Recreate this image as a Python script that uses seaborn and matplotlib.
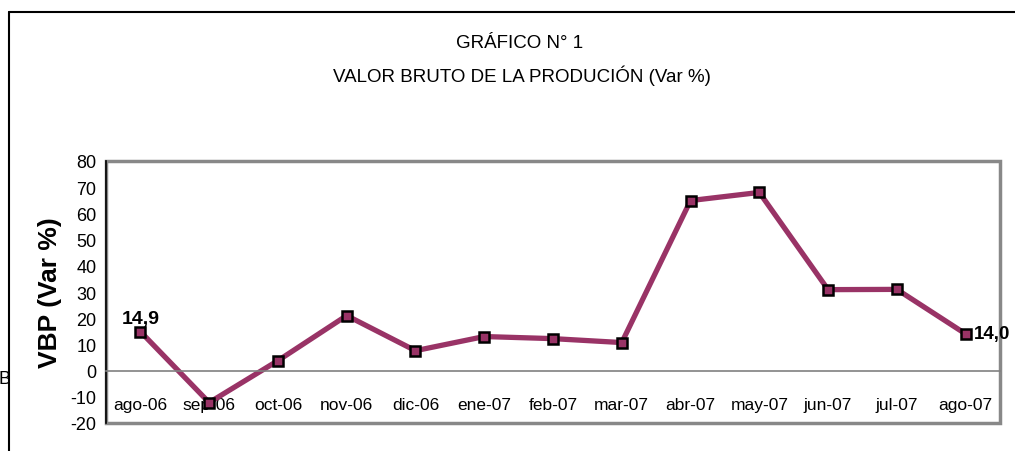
import matplotlib
matplotlib.use("Agg")
import matplotlib.pyplot as plt
import seaborn as sns
import pandas as pd
from matplotlib.patches import Rectangle
from matplotlib.lines import Line2D

# data
meses = ["ago-06", "sep-06", "oct-06", "nov-06", "dic-06", "ene-07", "feb-07",
         "mar-07", "abr-07", "may-07", "jun-07", "jul-07", "ago-07"]
var_vbp = [14.9, -12.2, 3.8, 21.0, 7.6, 13.0, 12.2, 10.7, 64.9, 68.0, 30.9, 31.0, 14.0]
etiquetas = ["14,9", "", "", "", "", "", "", "", "", "", "", "", "14,0"]
y_ticks = [-20, -10, 0, 10, 20, 30, 40, 50, 60, 70, 80]

df = pd.DataFrame({"mes": meses, "var": var_vbp, "pos": range(len(meses))})

sns.set_style("white")
plt.rcParams["font.family"] = ["Liberation Sans", "DejaVu Sans"]
plt.rcParams["text.color"] = "black"
plt.rcParams["xtick.color"] = "black"
plt.rcParams["ytick.color"] = "black"
plt.rcParams["axes.labelcolor"] = "black"

fig = plt.figure(figsize=(10.15, 4.52), dpi=100)
ax = fig.add_axes([106 / 1015, 1 - 424 / 452, 894 / 1015, 262 / 452])

sns.lineplot(data=df, x="pos", y="var", ax=ax, color="#993366", linewidth=3.8,
             marker="s", markersize=7, markerfacecolor="#993366",
             markeredgecolor="black", markeredgewidth=1.8)

ax.set_xlim(-0.5, len(meses) - 0.5)
ax.set_ylim(-20, 80)
ax.set_yticks(y_ticks)
ax.set_yticklabels([str(v) for v in y_ticks], fontsize=13)
ax.tick_params(axis="y", direction="out", length=5, width=1, color="black", pad=2)

# category axis crosses at zero, like the original spreadsheet chart
ax.spines["bottom"].set_position(("data", 0))
ax.spines["bottom"].set_color("#808080")
ax.spines["bottom"].set_linewidth(1.2)
ax.set_xticks([i + 0.5 for i in range(len(meses))])
ax.set_xticklabels([])
ax.tick_params(axis="x", which="major", direction="out", length=7, width=1, color="black")
ax.set_xticks(range(len(meses)), minor=True)
ax.set_xticklabels(meses, minor=True, fontsize=12.5)
ax.tick_params(axis="x", which="minor", length=0, pad=19)

for s in ["top", "right"]:
    ax.spines[s].set_visible(False)
ax.spines["left"].set_color("black")
ax.spines["left"].set_linewidth(1.2)
ax.add_patch(Rectangle((0, 0), 1, 1, transform=ax.transAxes, fill=False,
                       edgecolor="#888888", linewidth=2.5, clip_on=False, zorder=0))

ax.set_xlabel("")
ax.set_ylabel("VBP (Var %)", fontsize=19, fontweight="bold", labelpad=6)

for i, (v, t) in enumerate(zip(var_vbp, etiquetas)):
    if not t:
        continue
    if i == 0:
        ax.annotate(t, (i, v), xytext=(0, 3), textcoords="offset points",
                    ha="center", va="bottom", fontsize=14, fontweight="bold")
    else:
        ax.annotate(t, (i, v), xytext=(6, 0), textcoords="offset points",
                    ha="left", va="center", fontsize=13.5, fontweight="bold")

fig.text(520 / 1015, 1 - 43 / 452, "GRÁFICO N° 1", ha="center", va="center",
         fontsize=13.5, family=["Liberation Sans Narrow", "Liberation Sans"])
fig.text(522 / 1015, 1 - 76 / 452, "VALOR BRUTO DE LA PRODUCIÓN (Var %)", ha="center",
         va="center", fontsize=13.5, family=["Liberation Sans Narrow", "Liberation Sans"])

# outer frame of the pasted chart
fig.add_artist(Line2D([9 / 1015, 9 / 1015], [0, 1 - 13 / 452], color="black", linewidth=1.5))
fig.add_artist(Line2D([9 / 1015, 1], [1 - 13 / 452, 1 - 13 / 452], color="black", linewidth=1.5))
fig.text(10 / 1015, 1 - 380 / 452, "B", ha="right", va="center", fontsize=13)

fig.savefig("out.png", dpi=100)
